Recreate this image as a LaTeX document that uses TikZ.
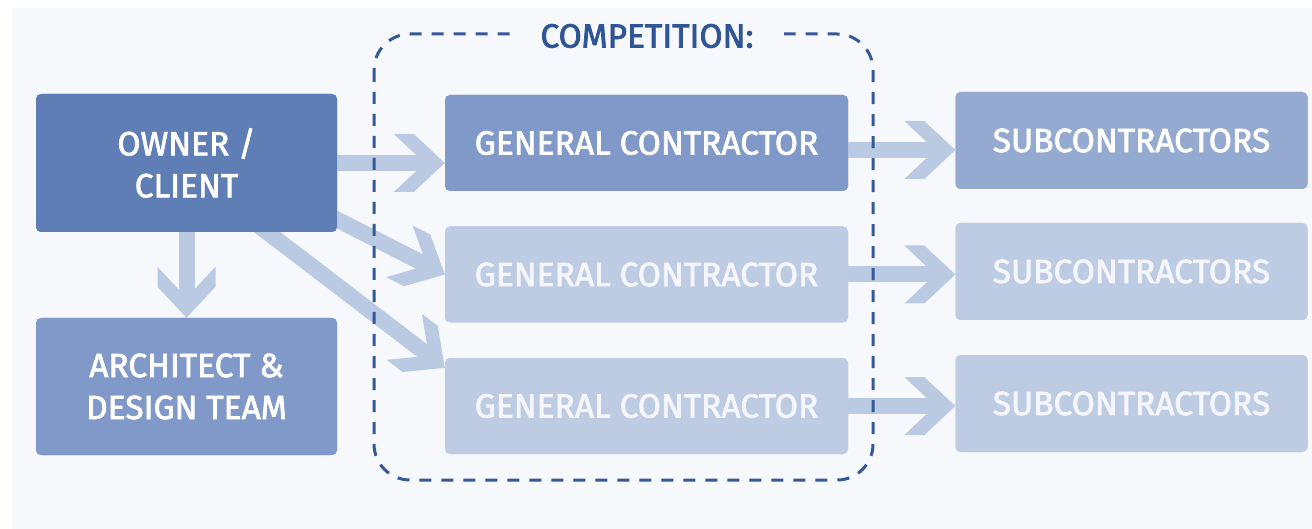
\documentclass[tikz,border=0pt]{standalone}
\usepackage{fontspec}
\setmainfont{Fira Sans}
\newfontfamily\labfont{Fira Sans}[FakeBold=2.2]
\usetikzlibrary{calc,arrows.meta}

\definecolor{pagebg}{HTML}{F7F8FC}
\definecolor{ownerc}{HTML}{5F7EB6}
\definecolor{midc}{HTML}{8199C8}
\definecolor{subc}{HTML}{94AAD0}
\definecolor{lightc}{HTML}{BDCBE3}
\definecolor{arrc}{HTML}{BACAE3}
\definecolor{dashc}{HTML}{34589A}
\definecolor{labelc}{HTML}{2F5597}
\definecolor{softwhite}{HTML}{F4F6FB}

% Broad block arrow head: a filled chevron whose arm ends run parallel to the shaft
\pgfdeclarearrow{
  name = Chevron,
  setup code = {
    \pgfarrowssettipend{0pt}
    \pgfarrowssetbackend{-51pt}
    \pgfarrowssetlineend{-26pt}
    \pgfarrowshullpoint{0pt}{0pt}
    \pgfarrowsupperhullpoint{-51pt}{29pt}
  },
  drawing code = {
    \pgfpathmoveto{\pgfpoint{0pt}{0pt}}
    \pgfpathlineto{\pgfpoint{-31pt}{29pt}}
    \pgfpathlineto{\pgfpoint{-51pt}{29pt}}
    \pgfpathlineto{\pgfpoint{-28.6pt}{8pt}}
    \pgfpathlineto{\pgfpoint{-28.6pt}{-8pt}}
    \pgfpathlineto{\pgfpoint{-51pt}{-29pt}}
    \pgfpathlineto{\pgfpoint{-31pt}{-29pt}}
    \pgfpathclose
    \pgfusepathqfill
  }
}

\tikzset{
  box/.style={rectangle, rounded corners=5pt, inner sep=0pt, align=center,
    text=white, font=\fontsize{33.5}{42}\labfont},
  ownerbox/.style={box, fill=ownerc, minimum width=301pt, minimum height=138pt},
  archbox/.style={box, fill=midc, minimum width=301pt, minimum height=137pt},
  gcbox/.style={box, minimum width=403pt, minimum height=96pt},
  subbox/.style={box, minimum width=352pt, minimum height=97pt},
  dimbox/.style={fill=lightc, text=softwhite},
  fat/.style={draw=arrc, line width=16pt, -{Chevron}},
  compframe/.style={draw=dashc, line width=3pt, dash pattern=on 12pt off 10pt,
    rounded corners=36pt},
  complabel/.style={fill=pagebg, text=labelc, inner xsep=30pt, inner ysep=4pt,
    font=\fontsize{33.5}{40}\labfont}
}

\begin{document}
\begin{tikzpicture}[x=1pt,y=-1pt]
  \useasboundingbox (0,0) rectangle (1312,529);
  \fill[white] (0,0) rectangle (1312,529);
  \fill[pagebg] (12,8) rectangle (1312,529);

  % boxes (placed first so that arrows can refer to them; painted later)
  \path
    node[ownerbox] (owner) at (186.5,163) {OWNER /\\CLIENT}
    node[archbox]  (arch)  at (186.5,386.5) {ARCHITECT \&\\DESIGN TEAM}
    node[gcbox, fill=midc] (gc1) at (646.5,143) {GENERAL CONTRACTOR}
    node[gcbox, dimbox]    (gc2) at (646.5,274.5) {GENERAL CONTRACTOR}
    node[gcbox, dimbox]    (gc3) at (646.5,406) {GENERAL CONTRACTOR}
    node[subbox, fill=subc] (sub1) at (1131.5,140.5) {SUBCONTRACTORS}
    node[subbox, dimbox]    (sub2) at (1131.5,271.5) {SUBCONTRACTORS}
    node[subbox, dimbox]    (sub3) at (1131.5,403.5) {SUBCONTRACTORS};

  % arrow start points inside the owner box and row offsets
  \coordinate (d1s) at ($(owner.south east)+(-87,-57)$);
  \coordinate (d2s) at ($(owner.south east)+(-117,-36)$);
  \coordinate (d2t) at ($(gc3.north west)+(0,10)$);
  \coordinate (r1s) at ($(gc1.center)+(0,7)$);

  % arrows
  \draw[fat] (owner) -- (owner -| gc1.west);
  \draw[fat] (owner) -- (owner |- arch.north);
  \draw[fat] (d1s) -- (gc2.west);
  \draw[fat] (d2s) -- (d2t);
  \draw[fat] (r1s) -- (r1s -| sub1.west);
  \draw[fat] (gc2) -- (gc2 -| sub2.west);
  \draw[fat] (gc3) -- (gc3 -| sub3.west);

  % paint the boxes over the arrow tails
  \node[ownerbox] at (owner) {OWNER /\\CLIENT};
  \node[archbox]  at (arch)  {ARCHITECT \&\\DESIGN TEAM};
  \node[gcbox, fill=midc] at (gc1) {GENERAL CONTRACTOR};
  \node[gcbox, dimbox]    at (gc2) {GENERAL CONTRACTOR};
  \node[gcbox, dimbox]    at (gc3) {GENERAL CONTRACTOR};
  \node[subbox, fill=subc] at (sub1) {SUBCONTRACTORS};
  \node[subbox, dimbox]    at (sub2) {SUBCONTRACTORS};
  \node[subbox, dimbox]    at (sub3) {SUBCONTRACTORS};

  % competition frame
  \draw[compframe] (374,34) rectangle (873,480);
  \node[complabel] (comp) at (647,36) {COMPETITION:};
\end{tikzpicture}
\end{document}
